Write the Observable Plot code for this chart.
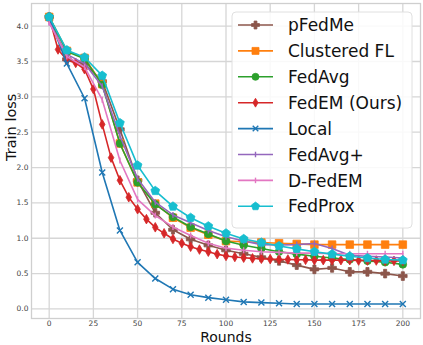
<!DOCTYPE html>
<html>
<head>
<meta charset="utf-8">
<script src="https://cdn.jsdelivr.net/npm/d3@7"></script>
<script src="https://cdn.jsdelivr.net/npm/@observablehq/plot@0.6"></script>
<style>
  html, body { margin: 0; padding: 0; background: #fff; }
  #chart { width: 423px; height: 345px; overflow: hidden; }
</style>
</head>
<body>
<div id="chart"></div>
<script>
// ---- data ----
const rounds10 = [0,10,20,30,40,50,60,70,80,90,100,110,120,130,140,150,160,170,180,190,200];
const rounds5 = [0,5,10,15,20,25,30,35,40,45,50,55,60,65,70,75,80,85,90,95,100,105,110,115,120,125,130,135,140,145,150,155,160,165,170,175,180,185,190,195,200];
const pFedMe     = [4.13,3.53,3.47,3.22,2.54,1.82,1.36,1.12,0.985,0.90,0.83,0.78,0.73,0.68,0.62,0.56,0.58,0.525,0.525,0.50,0.465];
const clusteredFL= [4.13,3.65,3.55,3.18,2.34,1.79,1.49,1.29,1.15,1.05,0.96,0.95,0.94,0.93,0.92,0.91,0.91,0.91,0.91,0.91,0.91];
const fedAvg     = [4.13,3.64,3.54,3.17,2.34,1.79,1.48,1.30,1.16,1.06,0.96,0.90,0.855,0.81,0.775,0.745,0.72,0.70,0.68,0.66,0.63];
const fedEM      = [4.13,3.67,3.52,3.48,3.39,3.11,2.61,2.14,1.82,1.58,1.41,1.27,1.155,1.07,0.99,0.93,0.88,0.84,0.81,0.775,0.75,0.735,0.725,0.715,0.71,0.705,0.70,0.70,0.695,0.695,0.69,0.69,0.69,0.69,0.69,0.685,0.685,0.685,0.68,0.68,0.68];
const local      = [4.12,3.47,2.98,1.93,1.11,0.66,0.43,0.28,0.20,0.16,0.13,0.10,0.09,0.08,0.07,0.07,0.07,0.07,0.07,0.07,0.07];
const fedAvgPlus = [4.05,3.60,3.47,3.15,2.45,1.84,1.51,1.33,1.22,1.11,1.02,0.96,0.91,0.905,0.91,0.925,0.855,0.76,0.745,0.735,0.72];
const dFedEM     = [4.05,3.57,3.42,2.96,2.10,1.55,1.32,1.16,1.04,0.93,0.86,0.83,0.81,0.80,0.79,0.79,0.78,0.78,0.78,0.78,0.78];
const fedProx    = [4.13,3.66,3.56,3.30,2.63,2.03,1.67,1.45,1.29,1.17,1.07,0.99,0.94,0.89,0.85,0.81,0.775,0.745,0.72,0.70,0.69];
const seriesNames = ["pFedMe","Clustered FL","FedAvg","FedEM (Ours)","Local","FedAvg+","D-FedEM","FedProx"];
const xTicks = [0,25,50,75,100,125,150,175,200];
const yTicks = [0,0.5,1,1.5,2,2.5,3,3.5,4];

// ---- custom marker symbols ----
const rOf = size => Math.sqrt(size / Math.PI);
const symFilledPlus = {draw(c, size){ const r = rOf(size), a = r*0.36;
  c.moveTo(-a,-r); c.lineTo(a,-r); c.lineTo(a,-a); c.lineTo(r,-a); c.lineTo(r,a); c.lineTo(a,a);
  c.lineTo(a,r); c.lineTo(-a,r); c.lineTo(-a,a); c.lineTo(-r,a); c.lineTo(-r,-a); c.lineTo(-a,-a); c.closePath(); }};
const symSquare = {draw(c, size){ const a = rOf(size)*0.88; c.rect(-a,-a,2*a,2*a); }};
const symCircle = {draw(c, size){ const r = rOf(size); c.moveTo(r,0); c.arc(0,0,r,0,2*Math.PI); c.closePath(); }};
const symThinDiamond = {draw(c, size){ const r = rOf(size), w = r*0.58;
  c.moveTo(0,-r); c.lineTo(w,0); c.lineTo(0,r); c.lineTo(-w,0); c.closePath(); }};
const symTimes = {draw(c, size){ const a = rOf(size)*0.75;
  c.moveTo(-a,-a); c.lineTo(a,a); c.moveTo(-a,a); c.lineTo(a,-a); }};
const symVline = {draw(c, size){ const r = rOf(size); c.moveTo(0,-r); c.lineTo(0,r); }};
const symPentagon = {draw(c, size){ const r = rOf(size);
  for (let k = 0; k < 5; k++) { const t = -Math.PI/2 + k*2*Math.PI/5; const px = r*Math.cos(t), py = r*Math.sin(t);
    if (k === 0) c.moveTo(px,py); else c.lineTo(px,py); } c.closePath(); }};

const series = [
  {name: seriesNames[0], xs: rounds10, ys: pFedMe,      color: "#8c564b", sym: symFilledPlus, r: 4.3, filled: true},
  {name: seriesNames[1], xs: rounds10, ys: clusteredFL, color: "#ff7f0e", sym: symSquare,     r: 4.3, filled: true},
  {name: seriesNames[2], xs: rounds10, ys: fedAvg,      color: "#2ca02c", sym: symCircle,     r: 3.8, filled: true},
  {name: seriesNames[3], xs: rounds5,  ys: fedEM,       color: "#d62728", sym: symThinDiamond,r: 4.8, filled: true},
  {name: seriesNames[4], xs: rounds10, ys: local,       color: "#1f77b4", sym: symTimes,      r: 4.0, filled: false},
  {name: seriesNames[5], xs: rounds10, ys: fedAvgPlus,  color: "#9467bd", sym: symVline,      r: 3.0, filled: false},
  {name: seriesNames[6], xs: rounds10, ys: dFedEM,      color: "#e377c2", sym: symVline,      r: 3.0, filled: false},
  {name: seriesNames[7], xs: rounds10, ys: fedProx,     color: "#17becf", sym: symPentagon,   r: 4.6, filled: true}
];

const marks = [
  Plot.gridX(xTicks, {stroke: "#d6d6d6", strokeOpacity: 1, strokeWidth: 1.3}),
  Plot.gridY(yTicks, {stroke: "#d6d6d6", strokeOpacity: 1, strokeWidth: 1.3}),
  Plot.frame({stroke: "#cfcfcf", strokeWidth: 1.3}),
  Plot.axisX({ticks: xTicks, tickSize: 0, tickPadding: 2, fontSize: 7.5, label: null, color: "#444"}),
  Plot.axisY({ticks: yTicks, tickSize: 0, tickPadding: 3, fontSize: 7.5, label: null, color: "#444", tickFormat: d3.format(".1f")})
];
for (const s of series) {
  const data = s.xs.map((x, i) => ({x, y: s.ys[i]}));
  marks.push(Plot.line(data, {x: "x", y: "y", stroke: s.color, strokeWidth: 1.6}));
  marks.push(Plot.dot(data, {x: "x", y: "y", symbol: s.sym, r: s.r,
    fill: s.filled ? s.color : "none", stroke: s.color, strokeWidth: s.filled ? 0.8 : 1.4}));
}
marks.push(Plot.text(["Rounds"], {frameAnchor: "bottom", lineAnchor: "middle", dy: 19, fontSize: 14, fill: "#111"}));
marks.push(Plot.text(["Train loss"], {frameAnchor: "left", dx: -20, rotate: -90, fontSize: 14.5, fill: "#111"}));

const chart = Plot.plot({
  width: 423, height: 345,
  marginLeft: 31, marginRight: 3, marginTop: 3, marginBottom: 27,
  x: {domain: [-10, 210]},
  y: {domain: [-0.135, 4.32]},
  style: {fontFamily: "DejaVu Sans", background: "#fff", overflow: "visible"},
  marks
});
document.getElementById("chart").appendChild(chart);

// ---- legend ----
const svg = d3.select(chart);
const lg = svg.append("g").attr("font-family", "DejaVu Sans").attr("text-anchor", "start");
lg.append("rect").attr("x", 232).attr("y", 12).attr("width", 180).attr("height", 216)
  .attr("rx", 4).attr("fill", "#fff").attr("fill-opacity", 0.85).attr("stroke", "#e0e0e0").attr("stroke-width", 1);
series.forEach((s, i) => {
  const cy = 25 + i * 25.9;
  const g = lg.append("g");
  g.append("line").attr("x1", 238).attr("x2", 273).attr("y1", cy).attr("y2", cy)
    .attr("stroke", s.color).attr("stroke-width", 1.6);
  g.append("path").attr("transform", `translate(255.5,${cy})`)
    .attr("d", d3.symbol(s.sym, Math.PI * s.r * s.r * 0.85)())
    .attr("fill", s.filled ? s.color : "none").attr("stroke", s.color).attr("stroke-width", s.filled ? 0.8 : 1.4);
  g.append("text").attr("x", 288).attr("y", cy).attr("dy", "0.36em").attr("text-anchor", "start")
    .attr("font-size", 17).attr("fill", "#111").text(s.name);
});
</script>
</body>
</html>
